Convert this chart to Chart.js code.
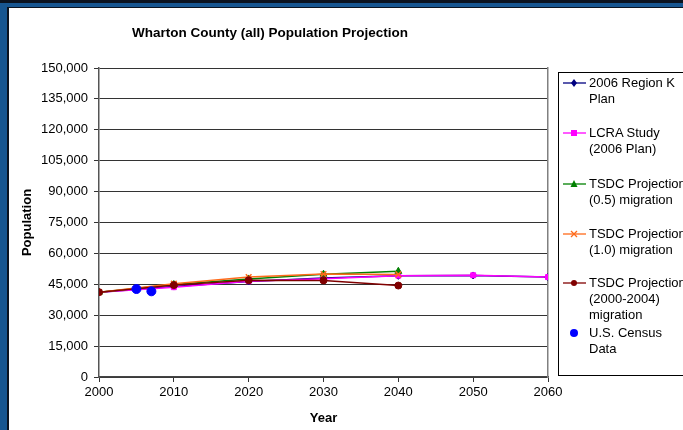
<!DOCTYPE html>
<html>
<head>
<meta charset="utf-8">
<script src="https://cdn.jsdelivr.net/npm/chart.js@4.4.1/dist/chart.umd.min.js"></script>
<style>
  html, body { margin: 0; padding: 0; background: #fff; }
  body { width: 683px; height: 430px; position: relative; overflow: hidden; font-family: 'Liberation Sans', Arial, sans-serif; }
  #chart { position: absolute; left: 0; top: 0; }
  #title { position: absolute; left: 0; top: 24px; width: 540px; text-align: center; font-size: 13.5px; font-weight: bold; line-height: 18px; color: #000; }
  .bar { position: absolute; }
  #legend { position: absolute; left: 558px; top: 72px; width: 140px; height: 304px; border: 1px solid #000; box-sizing: border-box; }
  .item { position: absolute; left: 0; font-size: 13px; line-height: 16px; color: #000; }
  .item svg { position: absolute; left: 4px; top: 0; }
  .item span { position: absolute; left: 30px; top: 0; white-space: nowrap; }
</style>
</head>
<body>
<canvas id="chart" width="580" height="430"></canvas>
<div id="title">Wharton County (all) Population Projection</div>
<div id="legend"></div>
<div class="bar" style="left:0;top:0;width:683px;height:3px;background:#0b1320"></div>
<div class="bar" style="left:0;top:3px;width:683px;height:4px;background:#175691"></div>
<div class="bar" style="left:8px;top:7px;width:675px;height:1px;background:#0b1320"></div>
<div class="bar" style="left:0;top:3px;width:7px;height:427px;background:#175691"></div>
<div class="bar" style="left:7px;top:7px;width:2px;height:423px;background:#0b1320"></div>
<script>
const years = [2000, 2010, 2020, 2030, 2040, 2050, 2060];
const tsdcYears = [2000, 2010, 2020, 2030, 2040];
const regionK = [41188, 43900, 46400, 48000, 49100, 49300, 48500];
const lcra = [41188, 43600, 46500, 47700, 49200, 49400, 48500];
const tsdcHalf = [41188, 44900, 47600, 49900, 51300];
const tsdcOne = [41188, 45300, 48500, 50000, 49800];
const tsdc0004 = [41188, 44600, 47000, 46900, 44400];
const censusYears = [2005, 2007];
const census = [42700, 41600];

const yTicks = [0, 15000, 30000, 45000, 60000, 75000, 90000, 105000, 120000, 135000, 150000];
const xTicks = [2000, 2010, 2020, 2030, 2040, 2050, 2060];

const pts = (xs, ys) => ys.map((v, i) => ({ x: xs[i], y: v }));

const series = [
  { label: '2006 Region K\nPlan', data: pts(years, regionK), color: '#000080', style: 'rectRot', r: 3.5, order: 6 },
  { label: 'LCRA Study\n(2006 Plan)', data: pts(years, lcra), color: '#FF00FF', style: 'rect', r: 3.5, order: 5 },
  { label: 'TSDC Projection\n(0.5) migration', data: pts(tsdcYears, tsdcHalf), color: '#008000', style: 'triangle', r: 4, order: 4 },
  { label: 'TSDC Projection\n(1.0) migration', data: pts(tsdcYears, tsdcOne), color: '#FF6A1A', style: 'crossRot', r: 4, order: 3 },
  { label: 'TSDC Projection\n(2000-2004)\nmigration', data: pts(tsdcYears, tsdc0004), color: '#800000', style: 'circle', r: 3.5, order: 2 },
  { label: 'U.S. Census\nData', data: pts(censusYears, census), color: '#0000FF', style: 'circle', r: 4.5, order: 1, noLine: true }
];

const font = { family: "'Liberation Sans', Arial, sans-serif", size: 13 };
const bold = { family: "'Liberation Sans', Arial, sans-serif", size: 13, weight: 'bold' };

new Chart(document.getElementById('chart'), {
  type: 'line',
  data: {
    datasets: series.map(s => ({
      label: s.label,
      data: s.data,
      borderColor: s.color,
      backgroundColor: s.color,
      borderWidth: 1.5,
      pointStyle: s.style,
      pointRadius: s.r,
      pointBorderWidth: s.style === 'crossRot' ? 1.5 : 1,
      showLine: !s.noLine,
      order: s.order,
      tension: 0
    }))
  },
  options: {
    responsive: false,
    animation: false,
    layout: { padding: { left: 0, right: 32, top: 68, bottom: 0 } },
    plugins: {
      legend: { display: false },
      tooltip: { enabled: false },
      title: { display: false }
    },
    scales: {
      x: {
        type: 'linear',
        min: 2000,
        max: 2060,
        afterBuildTicks: s => { s.ticks = xTicks.map(v => ({ value: v })); },
        ticks: { color: '#000', font: font, padding: 3, maxRotation: 0, callback: v => String(v) },
        grid: { drawOnChartArea: false, color: '#333', tickLength: 5 },
        border: { color: '#444', width: 1.5 },
        title: { display: true, text: 'Year', color: '#000', font: bold, padding: { top: 0, bottom: 4 } },
        afterFit: s => { s.height = 53; s.paddingLeft = 0; s.paddingRight = 0; }
      },
      y: {
        min: 0,
        max: 150000,
        afterBuildTicks: s => { s.ticks = yTicks.map(v => ({ value: v })); },
        ticks: { color: '#000', font: font, padding: 6, callback: v => v.toLocaleString('en-US') },
        grid: { color: '#333', lineWidth: 1, tickLength: 5 },
        border: { color: '#555', width: 1.5 },
        title: { display: true, text: 'Population', color: '#000', font: bold, padding: { top: 20, bottom: 0 } },
        afterFit: s => { s.width = 99; s.paddingTop = 0; s.paddingBottom = 0; }
      },
      y2: {
        position: 'right',
        min: 0,
        max: 150000,
        ticks: { display: false },
        grid: { drawOnChartArea: false, drawTicks: false },
        border: { color: '#808080', width: 1.5 },
        afterFit: s => { s.width = 0; }
      }
    }
  }
});

// legend built from the same series definitions
const legendTops = [2, 52, 103, 153, 202, 252];
const legend = document.getElementById('legend');
series.forEach((s, i) => {
  const item = document.createElement('div');
  item.className = 'item';
  item.style.top = legendTops[i] + 'px';
  const c = s.color;
  let marker = '';
  if (s.style === 'rectRot') marker = `<polygon points="11,4 14,8 11,12 8,8" fill="${c}"/>`;
  else if (s.style === 'rect') marker = `<rect x="8" y="5" width="6" height="6" fill="${c}"/>`;
  else if (s.style === 'triangle') marker = `<polygon points="11,4 14.5,11 7.5,11" fill="${c}"/>`;
  else if (s.style === 'crossRot') marker = `<path d="M8,5 L14,11 M14,5 L8,11" stroke="${c}" stroke-width="1.3"/>`;
  else if (s.noLine) marker = `<circle cx="11" cy="8" r="4" fill="${c}"/>`;
  else marker = `<circle cx="11" cy="8" r="3" fill="${c}"/>`;
  const line = s.noLine ? '' : `<line x1="0" y1="8" x2="23" y2="8" stroke="${c}" stroke-width="1.3"/>`;
  item.innerHTML = `<svg width="23" height="16">${line}${marker}</svg><span>${s.label.split('\n').join('<br>')}</span>`;
  legend.appendChild(item);
});
</script>
</body>
</html>
